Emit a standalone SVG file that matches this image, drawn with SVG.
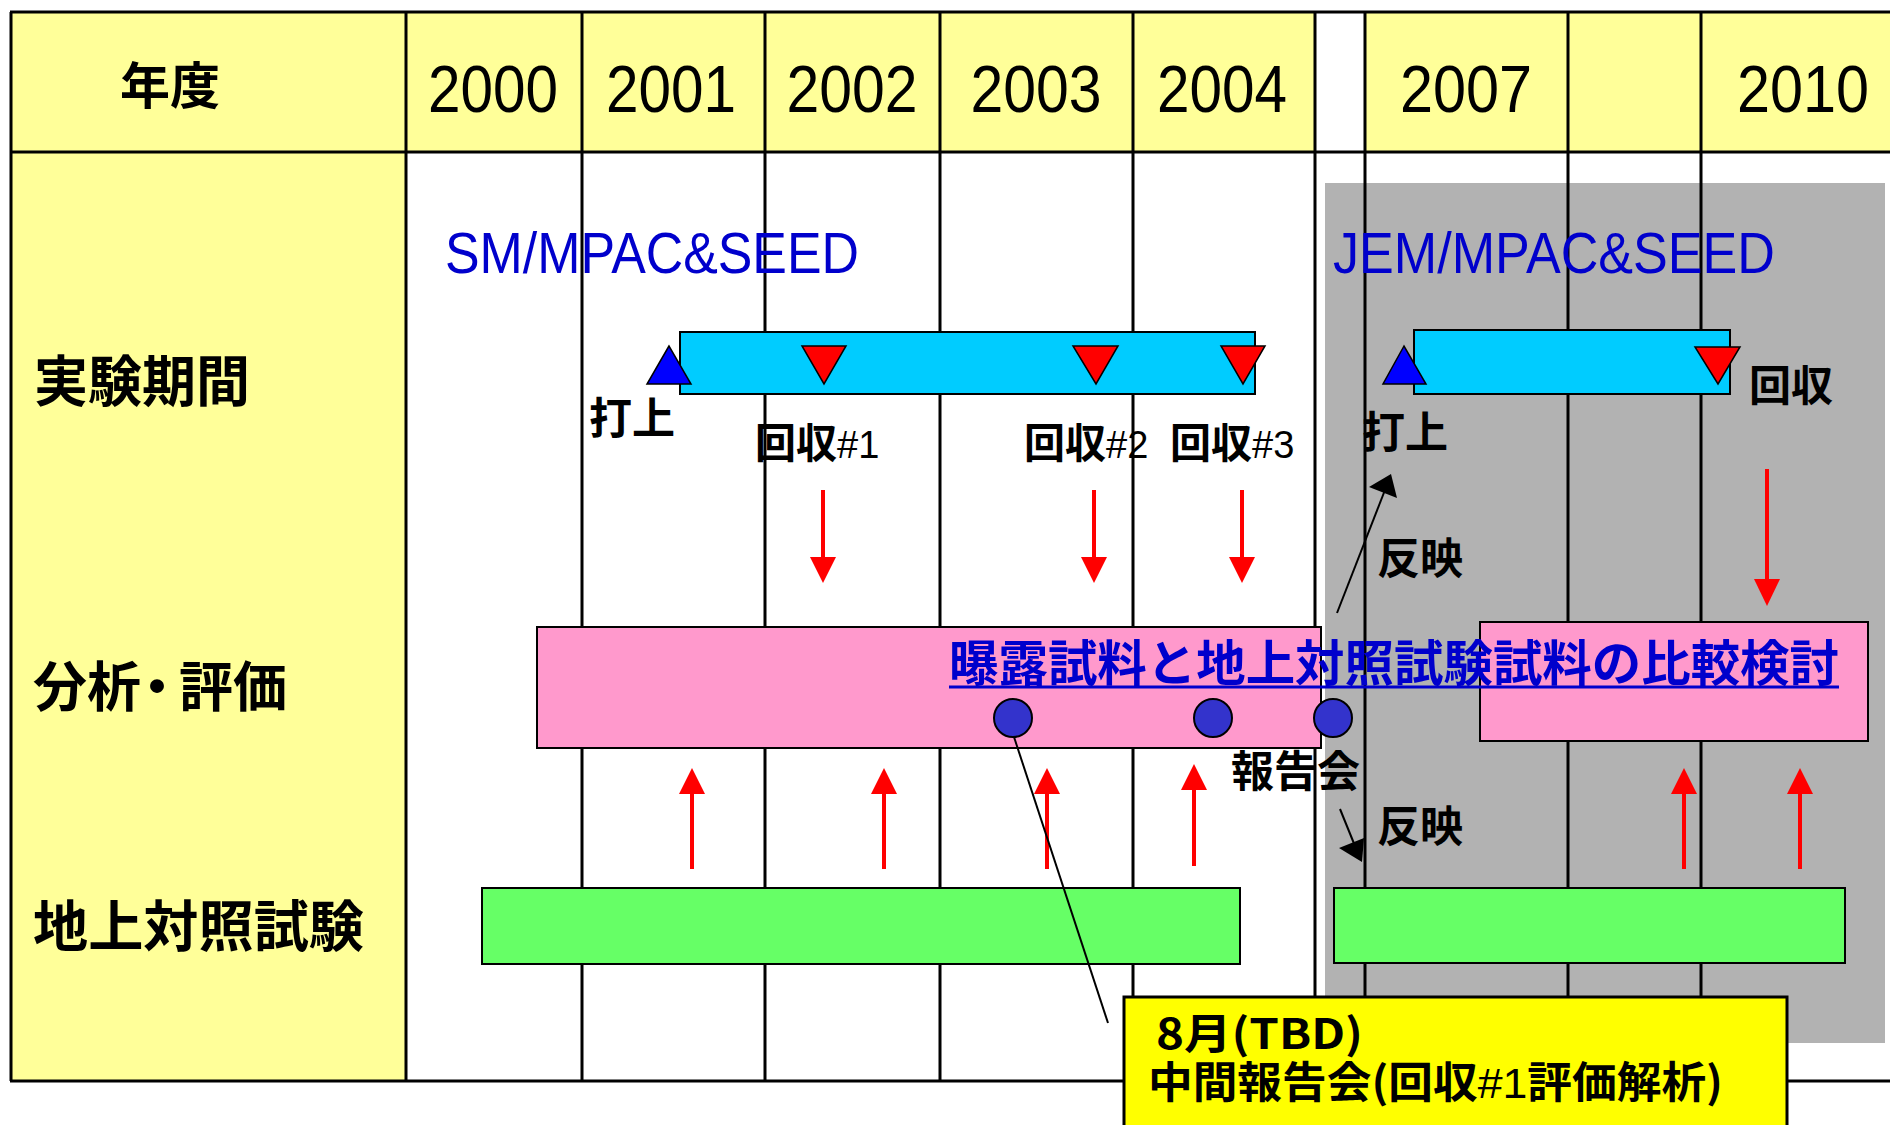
<svg xmlns="http://www.w3.org/2000/svg" width="1890" height="1125" viewBox="0 0 1890 1125">
<defs>
<style>
.grid{stroke:#000;stroke-width:3;fill:none}
.bar{stroke:#000;stroke-width:2}
.cyan{fill:#00CCFF}
.pink{fill:#FF99CC}
.green{fill:#66FF66}
.jp{font-family:"Noto Sans CJK JP","Liberation Sans",sans-serif;font-weight:bold;fill:#000}
.yr{font-family:"Liberation Sans",Arial,sans-serif;font-size:66px;fill:#000;text-anchor:middle}
.mod{font-family:"Liberation Sans",Arial,sans-serif;font-size:57px;fill:#0000CC}
.reg{font-family:"Liberation Sans",Arial,sans-serif;font-weight:normal}
.red{stroke:#FF0000;stroke-width:4;fill:none}
.redh{fill:#FF0000}
.tri{stroke:#000;stroke-width:1.5}
.dot{fill:#3333CC;stroke:#000;stroke-width:2}
.thin{stroke:#000;stroke-width:2;fill:none}
</style>
</defs>
<rect width="1890" height="1125" fill="#FFFFFF"/>
<g id="backgrounds">
<rect x="12" y="12" width="394" height="1069" fill="#FFFF99"/>
<rect x="406" y="12" width="909" height="140" fill="#FFFF99"/>
<rect x="1365" y="12" width="525" height="140" fill="#FFFF99"/>
<rect x="1325" y="183" width="560" height="860" fill="#B2B2B2"/>
</g>
<g id="grid" class="grid">
<line x1="10" y1="12" x2="1890" y2="12"/>
<line x1="10" y1="152" x2="1890" y2="152"/>
<line x1="10" y1="1081" x2="1890" y2="1081"/>
<line x1="11" y1="12" x2="11" y2="1081"/>
<line x1="406" y1="12" x2="406" y2="1081"/>
<line x1="582" y1="12" x2="582" y2="1081"/>
<line x1="765" y1="12" x2="765" y2="1081"/>
<line x1="940" y1="12" x2="940" y2="1081"/>
<line x1="1133" y1="12" x2="1133" y2="1081"/>
<line x1="1315" y1="12" x2="1315" y2="1081"/>
<line x1="1365" y1="12" x2="1365" y2="1081"/>
<line x1="1568" y1="12" x2="1568" y2="1081"/>
<line x1="1701" y1="12" x2="1701" y2="1081"/>
</g>
<g id="header">
<text class="jp" x="170" y="104" font-size="50" text-anchor="middle">年度</text>
<text class="yr" x="493" y="112" textLength="130" lengthAdjust="spacingAndGlyphs">2000</text>
<text class="yr" x="671" y="112" textLength="130" lengthAdjust="spacingAndGlyphs">2001</text>
<text class="yr" x="852" y="112" textLength="131" lengthAdjust="spacingAndGlyphs">2002</text>
<text class="yr" x="1036" y="112" textLength="131" lengthAdjust="spacingAndGlyphs">2003</text>
<text class="yr" x="1222" y="112" textLength="130" lengthAdjust="spacingAndGlyphs">2004</text>
<text class="yr" x="1466" y="112" textLength="132" lengthAdjust="spacingAndGlyphs">2007</text>
<text class="yr" x="1803" y="112" textLength="132" lengthAdjust="spacingAndGlyphs">2010</text>
</g>
<g id="row-labels">
<text class="jp" x="34" y="401" font-size="55" textLength="216" lengthAdjust="spacingAndGlyphs">実験期間</text>
<text class="jp" x="33" y="707" font-size="54">分析<tspan dx="-11">・</tspan><tspan dx="-5">評価</tspan></text>
<text class="jp" x="33" y="946" font-size="55" textLength="331" lengthAdjust="spacingAndGlyphs">地上対照試験</text>
</g>
<g id="sm-label"><text class="mod" x="445" y="273" textLength="414" lengthAdjust="spacingAndGlyphs">SM/MPAC&amp;SEED</text></g>
<g id="jem-label"><text class="mod" x="1333" y="273" textLength="442" lengthAdjust="spacingAndGlyphs">JEM/MPAC&amp;SEED</text></g>
<g id="sm-exposure"><rect class="bar cyan" x="680" y="332" width="575" height="62"/></g>
<g id="jem-exposure"><rect class="bar cyan" x="1414" y="330" width="316" height="64"/></g>
<g id="sm-analysis"><rect class="bar pink" x="537" y="627" width="784" height="121"/></g>
<g id="jem-analysis"><rect class="bar pink" x="1480" y="622" width="388" height="119"/></g>
<g id="sm-ground"><rect class="bar green" x="482" y="888" width="758" height="76"/></g>
<g id="jem-ground"><rect class="bar green" x="1334" y="888" width="511" height="75"/></g>
<g id="sm-launch">
<polygon class="tri" fill="#0000FF" points="669,346 647,384 691,384"/>
<text class="jp" x="589" y="434" font-size="43">打上</text>
</g>
<g id="sm-retrieval-1">
<polygon class="tri" fill="#FF0000" points="802,346 846,346 824,384"/>
<text class="jp" x="755" y="458" font-size="41">回収<tspan class="reg" font-size="38">#1</tspan></text>
</g>
<g id="sm-retrieval-2">
<polygon class="tri" fill="#FF0000" points="1073,346 1118,346 1096,384"/>
<text class="jp" x="1024" y="458" font-size="41">回収<tspan class="reg" font-size="38">#2</tspan></text>
</g>
<g id="sm-retrieval-3">
<polygon class="tri" fill="#FF0000" points="1221,346 1265,346 1243,384"/>
<text class="jp" x="1170" y="458" font-size="41">回収<tspan class="reg" font-size="38">#3</tspan></text>
</g>
<g id="jem-launch">
<polygon class="tri" fill="#0000FF" points="1404,346 1383,384 1426,384"/>
<text class="jp" x="1362" y="448" font-size="43">打上</text>
</g>
<g id="jem-retrieval">
<polygon class="tri" fill="#FF0000" points="1695,347 1740,347 1718,384"/>
<text class="jp" x="1749" y="401" font-size="42">回収</text>
</g>
<g id="comparison">
<text class="jp" x="949" y="681" font-size="49" style="fill:#0000CC" textLength="890" lengthAdjust="spacingAndGlyphs">曝露試料と地上対照試験試料の比較検討</text>
<line x1="949" y1="687" x2="1839" y2="687" stroke="#0000CC" stroke-width="3"/>
</g>
<g id="report-1"><circle class="dot" cx="1013" cy="718" r="19"/></g>
<g id="report-2"><circle class="dot" cx="1213" cy="718" r="19"/></g>
<g id="report-3">
<circle class="dot" cx="1333" cy="718" r="19"/>
<text class="jp" x="1231" y="787" font-size="43">報告会</text>
</g>
<g id="reflect-labels">
<text class="jp" x="1377" y="574" font-size="43">反映</text>
<text class="jp" x="1377" y="842" font-size="43">反映</text>
</g>
<g id="connectors">
<line class="red" x1="823" y1="490" x2="823" y2="560"/>
<polygon class="redh" points="810,557 836,557 823,583"/>
<line class="red" x1="1094" y1="490" x2="1094" y2="560"/>
<polygon class="redh" points="1081,557 1107,557 1094,583"/>
<line class="red" x1="1242" y1="490" x2="1242" y2="560"/>
<polygon class="redh" points="1229,557 1255,557 1242,583"/>
<line class="red" x1="1767" y1="469" x2="1767" y2="582"/>
<polygon class="redh" points="1754,579 1780,579 1767,606"/>
<line class="red" x1="692" y1="791" x2="692" y2="869"/>
<polygon class="redh" points="679,794 705,794 692,768"/>
<line class="red" x1="884" y1="791" x2="884" y2="869"/>
<polygon class="redh" points="871,794 897,794 884,768"/>
<line class="red" x1="1047" y1="791" x2="1047" y2="869"/>
<polygon class="redh" points="1034,794 1060,794 1047,768"/>
<line class="red" x1="1194" y1="787" x2="1194" y2="866"/>
<polygon class="redh" points="1181,790 1207,790 1194,764"/>
<line class="red" x1="1684" y1="791" x2="1684" y2="869"/>
<polygon class="redh" points="1671,794 1697,794 1684,768"/>
<line class="red" x1="1800" y1="791" x2="1800" y2="869"/>
<polygon class="redh" points="1787,794 1813,794 1800,768"/>
<line class="thin" x1="1337" y1="613" x2="1385" y2="490"/>
<polygon fill="#000" points="1391,474 1369,487 1397,498"/>
<line class="thin" x1="1340" y1="809" x2="1355" y2="846"/>
<polygon fill="#000" points="1362,862 1339,848 1364,838"/>
<line class="thin" x1="1014" y1="737" x2="1108" y2="1023"/>
</g>
<g id="interim-report">
<rect x="1124" y="997" width="663" height="140" fill="#FFFF00" stroke="#000" stroke-width="3"/>
<text class="jp" x="1156" y="1049" font-size="42" textLength="207" lengthAdjust="spacingAndGlyphs">8月(TBD)</text>
<text class="jp" x="1148" y="1098" font-size="43" textLength="575" lengthAdjust="spacingAndGlyphs">中間報告会(回収<tspan class="reg">#1</tspan>評価解析)</text>
</g>
</svg>
